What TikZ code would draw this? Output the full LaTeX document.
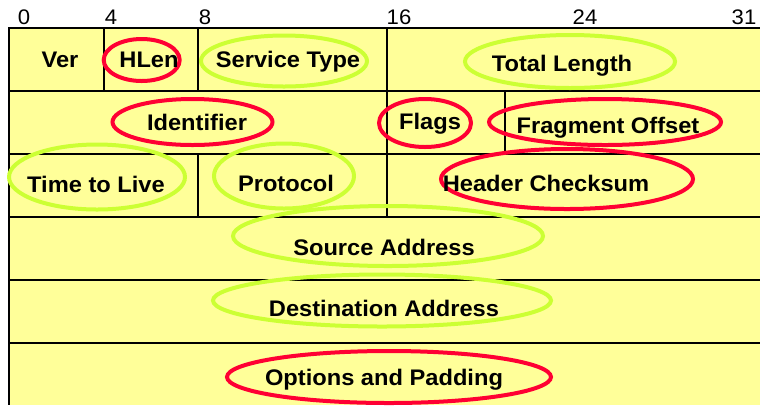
\documentclass[tikz,border=0pt]{standalone}
\usepackage{fontspec}
\setmainfont{Liberation Sans}[FakeStretch=1.05]
\usetikzlibrary{shapes.geometric}
\definecolor{cellfill}{RGB}{255,255,153}
\definecolor{ringred}{RGB}{255,0,51}
\definecolor{ringgreen}{RGB}{204,255,51}
\tikzset{
  grid line/.style={line width=1.6pt, black},
  ring/.style={ellipse, draw, line width=3pt, inner sep=0pt},
  redring/.style={ring, draw=ringred},
  greenring/.style={ring, draw=ringgreen},
  field/.style={font=\bfseries\fontsize{16.9pt}{18pt}\selectfont, inner sep=0pt},
  bitlabel/.style={font=\fontsize{15.8pt}{17pt}\selectfont, inner sep=0pt},
}
\begin{document}
\begin{tikzpicture}[x=0.75pt, y=-0.75pt]
\useasboundingbox (0,0) rectangle (760,405);
% background cells
\fill[cellfill] (9,28) rectangle (760,405);
% grid
\draw[grid line] (760,28) -- (9,28) -- (9,405);
\foreach \yy in {91,154,217,280,343} \draw[grid line] (9,\yy) -- (760,\yy);
\draw[grid line] (104,28) -- (104,91);
\draw[grid line] (198,28) -- (198,91);
\draw[grid line] (198,154) -- (198,217);
\draw[grid line] (387,28) -- (387,217);
\draw[grid line] (505,91) -- (505,154);
% bit labels
\node[bitlabel] (b0) at (24,17) {0};
\node[bitlabel] (b4) at (111,17) {4};
\node[bitlabel] (b8) at (205,17) {8};
\node[bitlabel] (b16) at (399,17) {16};
\node[bitlabel] (b24) at (585,17) {24};
\node[bitlabel] (b31) at (744,17) {31};
% rings
\node[redring, minimum width=76*0.75pt, minimum height=42*0.75pt] (rhlen) at (141.7,60) {};
\node[greenring, minimum width=166*0.75pt, minimum height=51*0.75pt] (rserv) at (284,61) {};
\node[greenring, minimum width=210*0.75pt, minimum height=53*0.75pt] (rtot) at (570,61.5) {};
\node[redring, minimum width=160*0.75pt, minimum height=46*0.75pt] (rid) at (192.5,122) {};
\node[redring, minimum width=92*0.75pt, minimum height=48*0.75pt] (rflags) at (425,123) {};
\node[redring, minimum width=232*0.75pt, minimum height=46*0.75pt] (rfrag) at (605,122) {};
\node[greenring, minimum width=176*0.75pt, minimum height=65*0.75pt] (rttl) at (97,177) {};
\node[greenring, minimum width=140*0.75pt, minimum height=65*0.75pt] (rproto) at (284,176) {};
\node[redring, minimum width=252*0.75pt, minimum height=60*0.75pt] (rcheck) at (567,179) {};
\node[greenring, minimum width=310*0.75pt, minimum height=60*0.75pt] (rsrc) at (388,236) {};
\node[greenring, minimum width=338*0.75pt, minimum height=52*0.75pt] (rdst) at (382,300.5) {};
\node[redring, minimum width=324*0.75pt, minimum height=52*0.75pt] (ropt) at (389,377) {};
% field texts
\node[field] (ver) at (60,60) {Ver};
\node[field] (hlen) at (149,60) {HLen};
\node[field] (serv) at (288,62) {Service Type};
\node[field] (tot) at (562,66) {Total Length};
\node[field] (ident) at (197,122) {Identifier};
\node[field] (flags) at (430,124) {Flags};
\node[field] (frag) at (608,128) {Fragment Offset};
\node[field] (ttl) at (96,184) {Time to Live};
\node[field] (proto) at (286,183) {Protocol};
\node[field] (check) at (546,183) {Header Checksum};
\node[field] (src) at (384,247) {Source Address};
\node[field] (dst) at (384,308) {Destination Address};
\node[field] (opt) at (384,380) {Options and Padding};
\end{tikzpicture}
\end{document}
